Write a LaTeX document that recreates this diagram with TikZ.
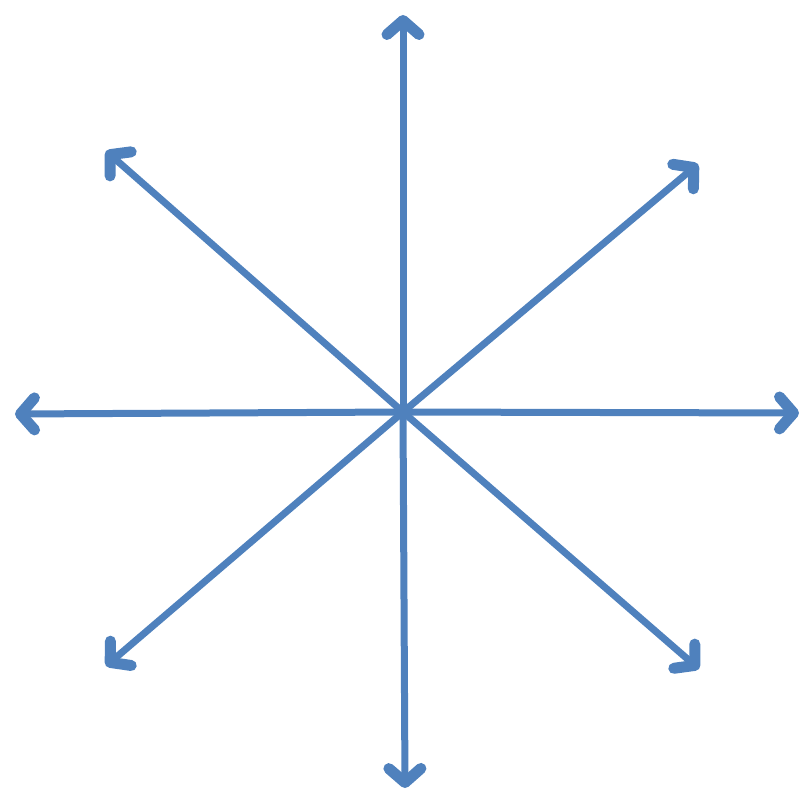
\documentclass[tikz,border=0pt]{standalone}
\usetikzlibrary{arrows.meta}
\definecolor{arrowblue}{HTML}{4F81BD}
\tikzset{
  ray/.style={draw=arrowblue, line width=7pt, line cap=round,
    -{Straight Barb[length=14pt, width=32pt, line width=11pt, line join=round, line cap=round]}}
}
\begin{document}
\begin{tikzpicture}[x=1pt,y=-1pt]
\useasboundingbox (0,0) rectangle (806,797);
\coordinate (c) at (403,412);
\coordinate (n) at (403,15);
\coordinate (s) at (405,788);
\coordinate (w) at (15,414);
\coordinate (e) at (799,413);
\coordinate (nw) at (106,151);
\coordinate (ne) at (698,164);
\coordinate (sw) at (106,666);
\coordinate (se) at (699,669);
\foreach \t in {n,s,w,e,nw,ne,sw,se}{
  \draw[ray] (c) -- (\t);
}
\end{tikzpicture}
\end{document}
